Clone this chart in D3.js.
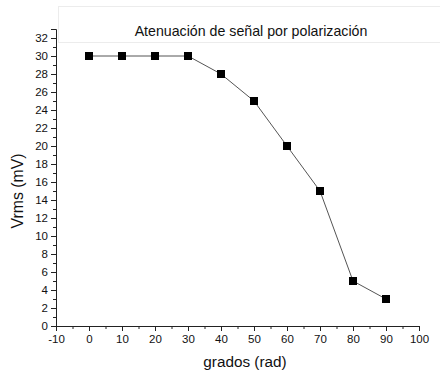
<!DOCTYPE html>
<html>
<head>
<meta charset="utf-8">
<script src="https://cdn.jsdelivr.net/npm/d3@7"></script>
<style>
  body { margin: 0; background: #fff; }
  svg text { font-family: "Liberation Sans", Arial, sans-serif; fill: #111; }
</style>
</head>
<body>
<svg id="chart" width="440" height="373"></svg>
<script>
// data
const angles = [0, 10, 20, 30, 40, 50, 60, 70, 80, 90];
const vrms = [30, 30, 30, 30, 28, 25, 20, 15, 5, 3];
const xTicks = [-10, 0, 10, 20, 30, 40, 50, 60, 70, 80, 90, 100];
const yTicks = [0, 2, 4, 6, 8, 10, 12, 14, 16, 18, 20, 22, 24, 26, 28, 30, 32];

const svg = d3.select("#chart");

const x = d3.scaleLinear().domain([-10, 100]).range([56, 419]);
const y = d3.scaleLinear().domain([0, 33]).range([326, 29]);

const fmt = d => String(d); // plain hyphen for negatives

// title panel
svg.append("rect")
  .attr("x", 58.5).attr("y", 6.5)
  .attr("width", 390).attr("height", 36)
  .attr("fill", "#fff")
  .attr("stroke", "#ececec");

svg.append("text")
  .attr("x", 251).attr("y", 36)
  .attr("text-anchor", "middle")
  .attr("font-size", 14.2)
  .text("Atenuación de señal por polarización");

// x axis
const xAxis = svg.append("g").attr("transform", "translate(0,326)");
xAxis.call(d3.axisBottom(x).tickValues(xTicks).tickSize(5).tickPadding(4).tickFormat(fmt));
xAxis.append("g").call(d3.axisBottom(x).tickValues(d3.range(-5, 100, 10)).tickSize(3).tickFormat(""));

// y axis
const yAxis = svg.append("g").attr("transform", "translate(56,0)");
yAxis.call(d3.axisLeft(y).tickValues(yTicks).tickSize(5).tickPadding(3).tickFormat(fmt));
yAxis.append("g").call(d3.axisLeft(y).tickValues(d3.range(1, 33, 2)).tickSize(3).tickFormat(""));

svg.selectAll(".domain").attr("stroke", "#222");
svg.selectAll(".tick line").attr("stroke", "#222");
svg.selectAll(".tick text").attr("font-size", 11.5).attr("font-family", "Liberation Sans, Arial, sans-serif").attr("fill", "#111");
svg.selectAll("g g .domain").attr("stroke", "none");

// axis titles
svg.append("text")
  .attr("x", 245).attr("y", 367)
  .attr("text-anchor", "middle")
  .attr("font-size", 15.3)
  .text("grados (rad)");

svg.append("text")
  .attr("transform", "translate(23,191) rotate(-90)")
  .attr("text-anchor", "middle")
  .attr("font-size", 15.8)
  .text("Vrms (mV)");

// line and markers
const pts = angles.map((a, i) => [a, vrms[i]]);

svg.append("path")
  .datum(pts)
  .attr("fill", "none")
  .attr("stroke", "#555")
  .attr("stroke-width", 1)
  .attr("d", d3.line().x(d => x(d[0])).y(d => y(d[1])));

svg.selectAll("rect.pt")
  .data(pts)
  .enter().append("rect")
  .attr("class", "pt")
  .attr("x", d => x(d[0]) - 4)
  .attr("y", d => y(d[1]) - 4)
  .attr("width", 8).attr("height", 8)
  .attr("fill", "#000");
</script>
</body>
</html>
